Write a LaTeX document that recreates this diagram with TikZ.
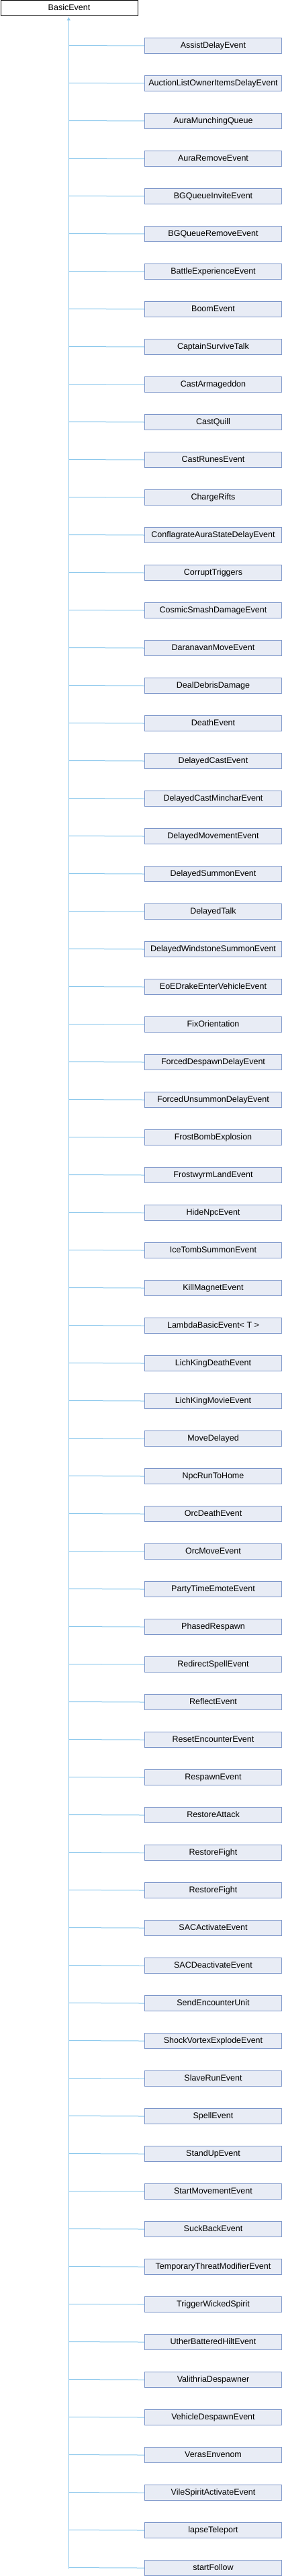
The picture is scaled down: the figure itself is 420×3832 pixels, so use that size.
\documentclass[tikz,border=0pt]{standalone}
\usepackage{fontspec}
\setmainfont{Liberation Sans}
\usetikzlibrary{arrows.meta}
\definecolor{edgecol}{HTML}{8CC8EC}
\definecolor{boxfill}{HTML}{E8ECF5}
\definecolor{boxdraw}{HTML}{7B95C9}
\tikzset{
  rootbox/.style={draw=black,fill=white,line width=1pt,rectangle,inner sep=0pt,
    minimum width=204pt,minimum height=23pt,text height=9pt,text depth=2.6pt,
    font=\fontsize{12.5pt}{14pt}\selectfont,anchor=north west},
  childbox/.style={draw=boxdraw,fill=boxfill,line width=1pt,rectangle,inner sep=0pt,
    minimum width=204pt,minimum height=23pt,text height=9pt,text depth=2.6pt,
    font=\fontsize{12.5pt}{14pt}\selectfont,anchor=north west},
  edge/.style={draw=edgecol,line width=1pt},
}
\begin{document}
\begin{tikzpicture}[x=1pt,y=-1pt]
\useasboundingbox (0,0) rectangle (420,3832);
\node[rootbox] (root) at (0.5,0.5) {BasicEvent};
\foreach \nm [count=\i from 0] in {
AssistDelayEvent,AuctionListOwnerItemsDelayEvent,AuraMunchingQueue,AuraRemoveEvent,
BGQueueInviteEvent,BGQueueRemoveEvent,BattleExperienceEvent,BoomEvent,CaptainSurviveTalk,
CastArmageddon,CastQuill,CastRunesEvent,ChargeRifts,ConflagrateAuraStateDelayEvent,
CorruptTriggers,CosmicSmashDamageEvent,DaranavanMoveEvent,DealDebrisDamage,DeathEvent,
DelayedCastEvent,DelayedCastMincharEvent,DelayedMovementEvent,DelayedSummonEvent,DelayedTalk,
DelayedWindstoneSummonEvent,EoEDrakeEnterVehicleEvent,FixOrientation,ForcedDespawnDelayEvent,
ForcedUnsummonDelayEvent,FrostBombExplosion,FrostwyrmLandEvent,HideNpcEvent,IceTombSummonEvent,
KillMagnetEvent,{LambdaBasicEvent< T >},LichKingDeathEvent,LichKingMovieEvent,MoveDelayed,
NpcRunToHome,OrcDeathEvent,OrcMoveEvent,PartyTimeEmoteEvent,PhasedRespawn,RedirectSpellEvent,
ReflectEvent,ResetEncounterEvent,RespawnEvent,RestoreAttack,RestoreFight,RestoreFight,
SACActivateEvent,SACDeactivateEvent,SendEncounterUnit,ShockVortexExplodeEvent,SlaveRunEvent,
SpellEvent,StandUpEvent,StartMovementEvent,SuckBackEvent,TemporaryThreatModifierEvent,
TriggerWickedSpirit,UtherBatteredHiltEvent,ValithriaDespawner,VehicleDespawnEvent,VerasEnvenom,
VileSpiritActivateEvent,lapseTeleport,startFollow}{
  \node[childbox] (c\i) at (215,56+56*\i) {\nm};
  \coordinate (j\i) at (102.3,67.5+56*\i);
  \draw[edge] (j\i) -- (c\i.west);
}
\coordinate (trunkend) at (102.3,3820.5);
\draw[edge,{Triangle[width=5pt,length=5pt,fill=edgecol]}-] (root.south -| trunkend) ++(0,1) -- (trunkend);
\end{tikzpicture}
\end{document}
